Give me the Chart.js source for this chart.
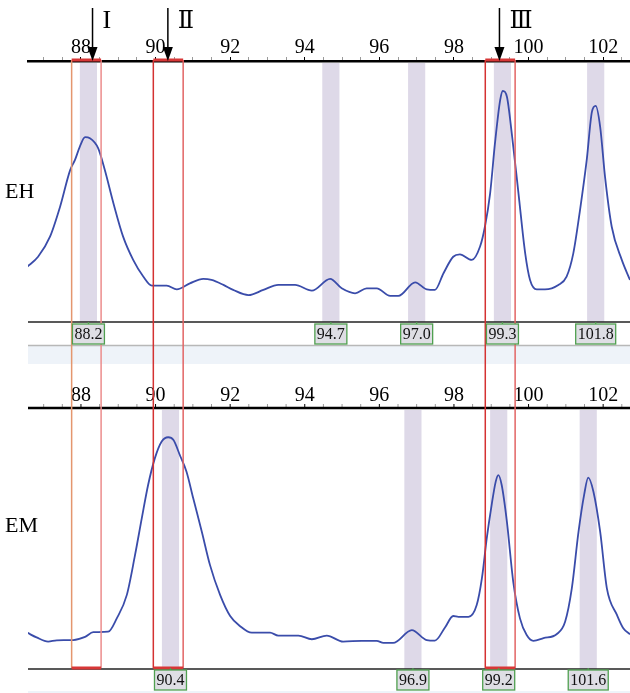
<!DOCTYPE html>
<html><head><meta charset="utf-8">
<script src="https://cdn.jsdelivr.net/npm/chart.js@4/dist/chart.umd.min.js"></script>
<style>html,body{margin:0;padding:0;background:#fff;}canvas{display:block;}</style>
</head><body>
<canvas id="c" width="630" height="693"></canvas>
<script>
// ---- data ----
const ehX = [86.56,86.85,87.17,87.44,87.71,87.84,87.97,88.11,88.24,88.46,88.64,88.87,89.13,89.40,89.67,89.90,90.30,90.57,90.92,91.28,91.50,91.82,92.08,92.49,92.89,93.29,93.74,94.19,94.68,94.99,95.35,95.66,95.93,96.29,96.51,96.96,97.27,97.49,97.72,97.98,98.16,98.48,98.70,98.83,98.97,99.10,99.24,99.31,99.42,99.55,99.73,99.91,100.04,100.22,100.44,100.80,101.02,101.20,101.38,101.56,101.70,101.80,101.92,102.05,102.23,102.50,102.72];
const ehY = [21.2,25.0,32.7,44.2,58.2,62.1,67.2,70.8,70.4,66.6,58.2,45.5,32.7,23.8,17.4,13.9,13.9,12.5,14.8,16.5,16.1,14.2,12.3,10.3,12.3,14.2,14.2,12.0,16.5,12.9,11.0,12.9,12.9,10.0,10.0,15.2,12.5,12.3,18.7,25.0,25.9,23.8,28.9,36.5,49.3,68.5,85.1,88.5,86.3,72.3,49.3,26.3,16.1,12.5,12.5,14.2,17.4,26.3,42.9,62.1,80.6,82.8,74.8,55.7,36.5,23.8,16.1];
const emX = [86.56,86.81,87.12,87.35,87.79,88.11,88.33,88.73,88.96,89.23,89.45,89.63,89.80,89.98,90.16,90.34,90.48,90.65,90.83,91.01,91.24,91.46,91.73,92.00,92.26,92.58,93.07,93.29,93.83,94.19,94.59,95.03,95.53,95.93,96.11,96.37,96.87,97.27,97.49,97.76,97.98,98.12,98.39,98.61,98.75,98.88,99.01,99.12,99.19,99.28,99.42,99.59,99.77,99.95,100.13,100.40,100.76,100.98,101.16,101.34,101.49,101.60,101.74,101.92,102.10,102.37,102.54,102.72];
const emY = [13.9,12.1,10.5,11.0,11.1,12.3,14.1,14.3,19.4,28.4,43.7,57.7,70.5,80.7,87.1,88.8,87.7,82.0,75.6,65.4,52.6,39.8,28.4,20.3,16.5,13.9,13.9,12.8,12.8,11.4,12.8,10.5,10.8,10.8,10.0,10.0,14.9,11.1,10.9,15.9,20.3,20.0,20.0,24.5,34.8,50.1,62.8,71.8,74.3,70.5,56.4,33.4,19.4,13.0,10.8,11.8,13.4,18.1,30.9,52.6,66.7,73.3,67.9,52.6,30.9,20.7,15.6,13.3];
const ehPeaks = [88.2, 94.7, 97.0, 99.3, 101.8];
const emPeaks = [90.4, 96.9, 99.2, 101.6];
const regionLo = [87.75, 89.94, 98.84];
const regionHi = [88.54, 90.74, 99.64];
const arrowX = [88.31, 90.33, 99.22];
const arrowLabels = ['I', 'Ⅱ', 'Ⅲ'];
const tickLabels = [88, 90, 92, 94, 96, 98, 100, 102];
const panelNames = ['EH', 'EM'];
const xMin = 86.58, xMax = 102.72;

// ---- styles ----
const SERIF = '"Liberation Serif", "Times New Roman", serif';
const lineColor = 'rgb(58,76,170)';
const bandColor = 'rgb(222,217,232)';
const bandHalf = 0.23;

const deco = {
  id: 'deco',
  beforeDatasetsDraw(chart) {
    const {ctx, chartArea: a, scales: {x, yEH, yEM}} = chart;
    ctx.save();
    ctx.fillStyle = bandColor;
    ehPeaks.forEach(p => {
      const l = x.getPixelForValue(p - bandHalf), r = x.getPixelForValue(p + bandHalf);
      ctx.fillRect(l, yEH.top + 2, r - l, yEH.bottom - yEH.top - 2);
    });
    emPeaks.forEach(p => {
      const l = x.getPixelForValue(p - bandHalf), r = x.getPixelForValue(p + bandHalf);
      ctx.fillRect(l, yEM.top + 2, r - l, yEM.bottom - yEM.top - 2);
    });
    // separator strip
    ctx.fillStyle = 'rgb(238,243,249)';
    ctx.fillRect(a.left, yEH.bottom + 24, a.right - a.left, 18);
    ctx.fillRect(a.left, yEM.bottom + 22, a.right - a.left, 4);
    ctx.strokeStyle = '#b8b8b8'; ctx.lineWidth = 1.5;
    ctx.beginPath(); ctx.moveTo(a.left, yEH.bottom + 23.5); ctx.lineTo(a.right, yEH.bottom + 23.5); ctx.stroke();
    // baselines
    ctx.strokeStyle = '#222'; ctx.lineWidth = 1.5;
    [yEH.bottom, yEM.bottom].forEach(yy => {
      ctx.beginPath(); ctx.moveTo(a.left, yy); ctx.lineTo(a.right, yy); ctx.stroke();
    });
    // second axis
    const ya = yEM.top;
    x.ticks.forEach(t => {
      const px = x.getPixelForValue(t.value);
      const major = t.value % 2 === 0;
      ctx.strokeStyle = major ? '#000' : '#9a9a9a'; ctx.lineWidth = 1;
      ctx.beginPath(); ctx.moveTo(px, ya - 4); ctx.lineTo(px, ya); ctx.stroke();
      if (t.label) {
        ctx.fillStyle = '#000'; ctx.font = '20px ' + SERIF;
        ctx.textAlign = 'center'; ctx.textBaseline = 'alphabetic';
        ctx.fillText(t.label, px, ya - 7);
      }
    });
    ctx.strokeStyle = '#000'; ctx.lineWidth = 2.5;
    ctx.beginPath(); ctx.moveTo(a.left, ya); ctx.lineTo(a.right, ya); ctx.stroke();
    ctx.restore();
  },
  afterDatasetsDraw(chart) {
    const {ctx, chartArea: a, scales: {x, yEH, yEM}} = chart;
    ctx.save();
    // red regions
    regionLo.forEach((lo, i) => {
      const l = x.getPixelForValue(lo), r = x.getPixelForValue(regionHi[i]);
      const top = a.top - 1, bot = yEM.bottom - 1;
      ctx.lineWidth = 1.5;
      ctx.strokeStyle = i === 0 ? 'rgb(228,150,110)' : 'rgb(212,50,50)';
      ctx.beginPath(); ctx.moveTo(l, top); ctx.lineTo(l, bot); ctx.stroke();
      ctx.strokeStyle = i === 0 ? 'rgb(236,140,140)' : 'rgb(226,100,100)';
      ctx.beginPath(); ctx.moveTo(r, top); ctx.lineTo(r, bot); ctx.stroke();
      ctx.fillStyle = 'rgb(215,55,55)';
      ctx.fillRect(l, top - 1.5, r - l, 3);
      ctx.fillRect(l, bot - 1.5, r - l, 3);
    });
    // peak label boxes
    ctx.font = '16px ' + SERIF;
    ctx.textAlign = 'center'; ctx.textBaseline = 'middle';
    const boxes = (peaks, yTop) => peaks.forEach(p => {
      const px = x.getPixelForValue(p);
      const txt = p.toFixed(1);
      const w = ctx.measureText(txt).width + 4;
      ctx.fillStyle = 'rgb(222,222,228)';
      ctx.fillRect(px - w / 2, yTop, w, 20);
      ctx.strokeStyle = 'rgb(80,160,80)'; ctx.lineWidth = 1.3;
      ctx.strokeRect(px - w / 2, yTop, w, 20);
      ctx.beginPath(); ctx.moveTo(px, yTop - 2); ctx.lineTo(px, yTop); ctx.stroke();
      ctx.fillStyle = '#111';
      ctx.fillText(txt, px, yTop + 11);
    });
    boxes(ehPeaks, yEH.bottom + 2);
    boxes(emPeaks, yEM.bottom + 1);
    // arrows
    arrowX.forEach((v, i) => {
      const px = x.getPixelForValue(v);
      ctx.strokeStyle = '#000'; ctx.fillStyle = '#000'; ctx.lineWidth = 1.5;
      ctx.beginPath(); ctx.moveTo(px, 8); ctx.lineTo(px, 52); ctx.stroke();
      ctx.beginPath(); ctx.moveTo(px - 5, 47); ctx.lineTo(px + 5, 47); ctx.lineTo(px, 61); ctx.closePath(); ctx.fill();
      ctx.font = i === 0 ? '26px ' + SERIF : '24px "DejaVu Serif", ' + SERIF;
      ctx.textAlign = 'left'; ctx.textBaseline = 'alphabetic';
      ctx.fillText(arrowLabels[i], px + 10, 28);
    });
    // panel names
    ctx.font = '22px ' + SERIF;
    ctx.textAlign = 'left'; ctx.textBaseline = 'alphabetic'; ctx.fillStyle = '#000';
    ctx.fillText(panelNames[0], 5, 198);
    ctx.fillText(panelNames[1], 5, 532);
    ctx.restore();
  }
};

new Chart(document.getElementById('c'), {
  type: 'line',
  data: {
    datasets: [
      { label: panelNames[0], data: ehX.map((v, i) => ({x: v, y: ehY[i]})), yAxisID: 'yEH',
        borderColor: lineColor, borderWidth: 1.8, pointRadius: 0, cubicInterpolationMode: 'monotone', fill: false },
      { label: panelNames[1], data: emX.map((v, i) => ({x: v, y: emY[i]})), yAxisID: 'yEM',
        borderColor: lineColor, borderWidth: 1.8, pointRadius: 0, cubicInterpolationMode: 'monotone', fill: false }
    ]
  },
  options: {
    responsive: false, animation: false, devicePixelRatio: 1,
    layout: { padding: { left: 28, right: 0, top: 0, bottom: 24 } },
    plugins: { legend: { display: false }, tooltip: { enabled: false } },
    scales: {
      x: {
        type: 'linear', position: 'top', min: xMin, max: xMax,
        afterBuildTicks: s => {
          const t = [];
          for (let v = 87; v <= 102.5; v += 0.5) t.push({value: v});
          s.ticks = t;
        },
        afterFit: s => { s.height = 61; },
        ticks: {
          autoSkip: false, maxRotation: 0, padding: -1, color: '#000',
          font: { family: SERIF, size: 20, lineHeight: 1 },
          callback: v => tickLabels.includes(v) ? String(v) : ''
        },
        grid: {
          drawOnChartArea: false, tickLength: 4, lineWidth: 1,
          color: c => (c.tick && c.tick.value % 2 === 0) ? '#000' : '#9a9a9a'
        },
        border: { color: '#000', width: 2.5 }
      },
      yEM: { type: 'linear', position: 'left', display: false, stack: 'p', stackWeight: 261, min: 0, max: 100 },
      yGap: { type: 'linear', position: 'left', display: false, stack: 'p', stackWeight: 86, min: 0, max: 1 },
      yEH: { type: 'linear', position: 'left', display: false, stack: 'p', stackWeight: 261, min: 0, max: 100 }
    }
  },
  plugins: [deco]
});
</script>
</body></html>
